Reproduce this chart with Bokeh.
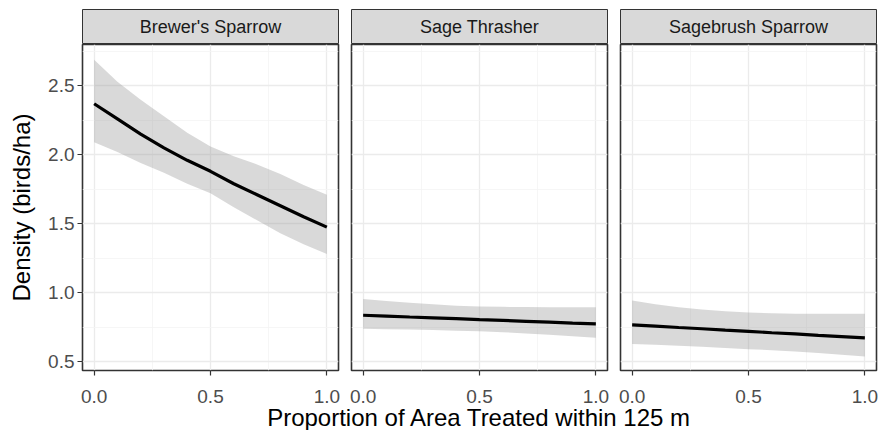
from bokeh.plotting import figure
from bokeh.layouts import row, column
from bokeh.models import FixedTicker, Range1d
from bokeh.core.properties import value
from bokeh.embed import file_html
from bokeh.resources import INLINE

# ---- data ----
species = ["Brewer's Sparrow", "Sage Thrasher", "Sagebrush Sparrow"]
x_prop = [0.0, 0.1, 0.2, 0.3, 0.4, 0.5, 0.6, 0.7, 0.8, 0.9, 1.0]

brsp_fit = [2.37, 2.26, 2.15, 2.05, 1.96, 1.88, 1.79, 1.71, 1.63, 1.55, 1.475]
brsp_upper = [2.69, 2.53, 2.40, 2.28, 2.16, 2.06, 1.99, 1.93, 1.86, 1.78, 1.71]
brsp_lower = [2.09, 2.02, 1.94, 1.87, 1.79, 1.72, 1.62, 1.525, 1.43, 1.35, 1.28]

sath_fit = [0.836, 0.830, 0.823, 0.817, 0.811, 0.804, 0.798, 0.792, 0.786, 0.779, 0.773]
sath_upper = [0.954, 0.940, 0.927, 0.915, 0.905, 0.900, 0.897, 0.895, 0.894, 0.894, 0.894]
sath_lower = [0.737, 0.735, 0.732, 0.728, 0.724, 0.720, 0.713, 0.704, 0.695, 0.684, 0.672]

sabs_fit = [0.766, 0.757, 0.747, 0.738, 0.728, 0.719, 0.709, 0.700, 0.690, 0.681, 0.672]
sabs_upper = [0.942, 0.915, 0.893, 0.877, 0.864, 0.855, 0.850, 0.847, 0.846, 0.846, 0.846]
sabs_lower = [0.628, 0.622, 0.615, 0.607, 0.598, 0.590, 0.582, 0.572, 0.562, 0.549, 0.536]

x_ticks = [0.0, 0.5, 1.0]
x_tick_labels = ["0.0", "0.5", "1.0"]
x_minor = [0.25, 0.75]
y_ticks = [0.5, 1.0, 1.5, 2.0, 2.5]
y_tick_labels = ["0.5", "1.0", "1.5", "2.0", "2.5"]
y_minor = [0.75, 1.25, 1.75, 2.25, 2.75]

x_title = "Proportion of Area Treated within 125 m"
y_title = "Density (birds/ha)"

fits = [brsp_fit, sath_fit, sabs_fit]
uppers = [brsp_upper, sath_upper, sabs_upper]
lowers = [brsp_lower, sath_lower, sabs_lower]

FONT = "Liberation Sans"
FRAME_W = 256
FRAME_H = 326
STRIP_H = 35
X_START, X_END = -0.05, 1.05
borders = [(82, 6), (7, 6), (7, 4)]

strips = []
panels = []
frame_left = []
pos = 0
for i, name in enumerate(species):
    bl, br = borders[i]
    frame_left.append(pos + bl)
    pos += bl + FRAME_W + br

    # facet strip
    s = figure(frame_width=FRAME_W, frame_height=STRIP_H, x_range=Range1d(0, 1), y_range=Range1d(0, 1),
               output_backend="svg", toolbar_location=None, tools="",
               min_border_left=bl, min_border_right=br, min_border_top=9, min_border_bottom=0)
    s.axis.visible = False
    s.grid.visible = False
    s.background_fill_color = "#D9D9D9"
    s.border_fill_color = "white"
    s.outline_line_color = "#333333"
    s.outline_line_width = 1
    s.text(x=[0.5], y=[0.5], text=[name], text_align="center", text_baseline="middle",
           text_font=value(FONT), text_font_size="18px", text_color="#1A1A1A")
    strips.append(s)

    # panel
    p = figure(frame_width=FRAME_W, frame_height=FRAME_H, x_range=Range1d(X_START, X_END),
               y_range=Range1d(0.435, 2.80), output_backend="svg", toolbar_location=None, tools="",
               min_border_left=bl, min_border_right=br, min_border_top=0, min_border_bottom=6)
    p.background_fill_color = "white"
    p.border_fill_color = "white"
    p.outline_line_color = "#333333"
    p.outline_line_width = 1.6

    xt = FixedTicker(ticks=x_ticks, minor_ticks=x_minor)
    yt = FixedTicker(ticks=y_ticks, minor_ticks=y_minor)
    p.xaxis.ticker = xt
    p.xgrid.ticker = xt
    p.yaxis.ticker = yt
    p.ygrid.ticker = yt
    for g in (p.xgrid, p.ygrid):
        g.grid_line_color = "#EBEBEB"
        g.grid_line_width = 1.3
        g.minor_grid_line_color = "#F4F4F4"
        g.minor_grid_line_width = 0.8

    p.yaxis.major_label_overrides = {t: l for t, l in zip(y_ticks, y_tick_labels)}
    for ax in (p.xaxis, p.yaxis):
        ax.axis_line_color = None
        ax.major_tick_line_color = "#333333"
        ax.major_tick_line_width = 1.2
        ax.major_tick_out = 5
        ax.major_tick_in = 0
        ax.minor_tick_line_color = None
        ax.major_label_text_font = FONT
        ax.major_label_text_color = "#4D4D4D"
        ax.axis_label_text_font = FONT
        ax.axis_label_text_font_size = "24px"
        ax.axis_label_text_font_style = "normal"
        ax.axis_label_text_color = "black"
    # x tick marks come from the panel axis; its labels are drawn in the shared bottom strip
    p.xaxis.major_label_text_color = None
    p.xaxis.major_label_text_font_size = "1px"
    p.xaxis.major_label_standoff = 0
    p.yaxis.major_label_text_font_size = "19px"
    p.yaxis.major_label_standoff = 3

    if i == 0:
        p.yaxis.axis_label = y_title
        p.yaxis.axis_label_standoff = 10
    else:
        p.yaxis.visible = False

    p.varea(x=x_prop, y1=lowers[i], y2=uppers[i], fill_color="#999999", fill_alpha=0.37)
    p.line(x=x_prop, y=fits[i], line_color="black", line_width=3.2)
    panels.append(p)

# bottom strip: x tick labels of each panel and the shared x title (one canvas)
total_w = pos
per_px = (X_END - X_START) / FRAME_W
extra = {}
for i in range(3):
    st = X_START - frame_left[i] * per_px
    extra["p%d" % i] = Range1d(st, st + total_w * per_px)

BOT_H = 54
b = figure(frame_width=total_w, frame_height=BOT_H, x_range=Range1d(0, 1), y_range=Range1d(0, 1),
           extra_x_ranges=extra, output_backend="svg", toolbar_location=None, tools="",
           min_border_left=0, min_border_right=0, min_border_top=0, min_border_bottom=0)
b.axis.visible = False
b.grid.visible = False
b.outline_line_color = None
b.background_fill_color = "white"
b.border_fill_color = "white"
for i in range(3):
    b.text(x=x_ticks, y=[1] * len(x_ticks), text=x_tick_labels, x_range_name="p%d" % i,
           text_align="center", text_baseline="alphabetic", y_offset=20,
           text_font=value(FONT), text_font_size="19px", text_color="#4D4D4D")
mid_center = frame_left[1] + FRAME_W / 2
b.text(x=[0.5], y=[1], text=[x_title], text_align="center", text_baseline="alphabetic",
       x_offset=mid_center - total_w / 2, y_offset=41,
       text_font=value(FONT), text_font_size="24px", text_color="black")

layout = column(row(*strips, spacing=0), row(*panels, spacing=0), b, spacing=0)
open("out.html", "w").write(file_html(layout, INLINE))
